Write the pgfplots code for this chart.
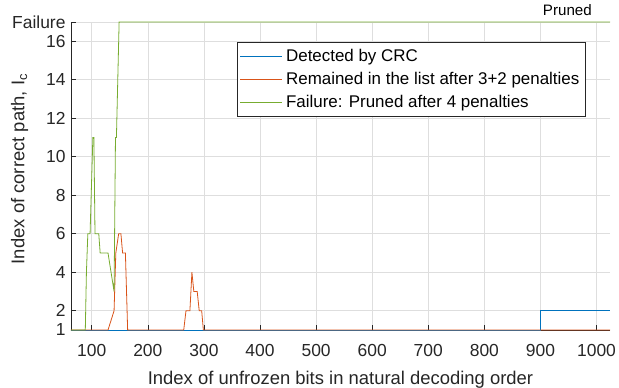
\documentclass[border=0pt]{standalone}
\usepackage{pgfplots}
\pgfplotsset{compat=1.18}
\usepackage{fontspec}
\setmainfont{Liberation Sans}
\definecolor{mblue}{rgb}{0,0.447,0.741}
\definecolor{morange}{rgb}{0.85,0.325,0.098}
\definecolor{mgreen}{rgb}{0.466,0.674,0.188}
\definecolor{axgray}{rgb}{0.15,0.15,0.15}
\definecolor{gridgray}{rgb}{0.87,0.87,0.87}
\pgfplotsset{
  mylegimg/.style={legend image code/.code={\draw[##1] (0bp,0bp) -- (42bp,0bp);}},
}
\begin{document}
\begin{tikzpicture}
\begin{axis}[
  scale only axis,
  width=539bp, height=308bp,
  xmin=63, xmax=1024, ymin=1, ymax=17,
  clip=false,
  axis x line*=bottom, axis y line*=left,
  axis line style={-, axgray, line width=0.6bp},
  xtick={100,200,...,1000},
  ytick={1,2,4,6,8,10,12,14,16,17},
  yticklabels={1,2,4,6,8,10,12,14,16,Failure},
  /pgf/number format/assume math mode=true,
  /pgf/number format/1000 sep={},
  tick align=inside,
  major tick length=5bp,
  tick style={axgray, line width=0.6bp},
  grid=major,
  major grid style={gridgray, line width=0.6bp},
  tick label style={font=\fontsize{17.5}{19}\selectfont, text=axgray},
  xticklabel style={anchor=base, yshift=-26.7bp},
  yticklabel style={xshift=-2bp},
  every axis x label/.style={at={(rel axis cs:0.5,0)}, anchor=base, yshift=-54bp},
  every axis y label/.style={at={(rel axis cs:0,0.5)}, xshift=-46.5bp, yshift=7bp, rotate=90, anchor=base},
  label style={font=\fontsize{18.5}{20}\selectfont, text=axgray},
  xlabel={Index of unfrozen bits in natural decoding order},
  ylabel={Index of correct path, I\textsubscript{c}},
  legend style={at={(0.308,0.935)}, anchor=north west, draw=axgray, line width=0.6bp,
    font=\fontsize{17}{19}\selectfont, row sep=0bp, inner sep=2.5bp,
    nodes={inner ysep=4.6bp, inner xsep=3.5bp}},
  legend cell align=left,
  mylegimg,
  every axis plot/.append style={line width=0.8bp},
]
\addplot[mblue, forget plot] coordinates {(63,1) (900,1) (900,2) (1024,2)};
\addplot[morange, forget plot] coordinates {(63,1) (129,1) (139.8,2) (142.9,5) (148,6) (152,6) (155,5) (160,5) (164,1)
  (264,1) (268,2) (275,2) (278.6,4) (282,3) (288,3) (291.6,2) (296,2) (299,1) (1024,1)};
\addplot[mgreen, forget plot] coordinates {(63,1) (88.5,1) (90.5,4) (93,6) (97,6) (102,11) (103.8,11) (105.8,6) (112.5,6) (115,5) (129,5) (139.8,3) (142.3,11) (144,11) (148.8,17) (1024,17)};
\addlegendimage{mblue, line width=0.8bp}
\addlegendentry{Detected by CRC}
\addlegendimage{morange, line width=0.8bp}
\addlegendentry{Remained in the list after 3+2 penalties}
\addlegendimage{mgreen, line width=0.8bp}
\addlegendentry{Failure: Pruned after 4 penalties}
\node[anchor=base, font=\fontsize{15.2}{17}\selectfont, text=black, inner sep=0bp] at (axis cs:948,17) [yshift=6bp] {Pruned};
\end{axis}
\pgfresetboundingbox
\path (-71bp,-58bp) rectangle (548bp,330bp);
\end{tikzpicture}
\end{document}
